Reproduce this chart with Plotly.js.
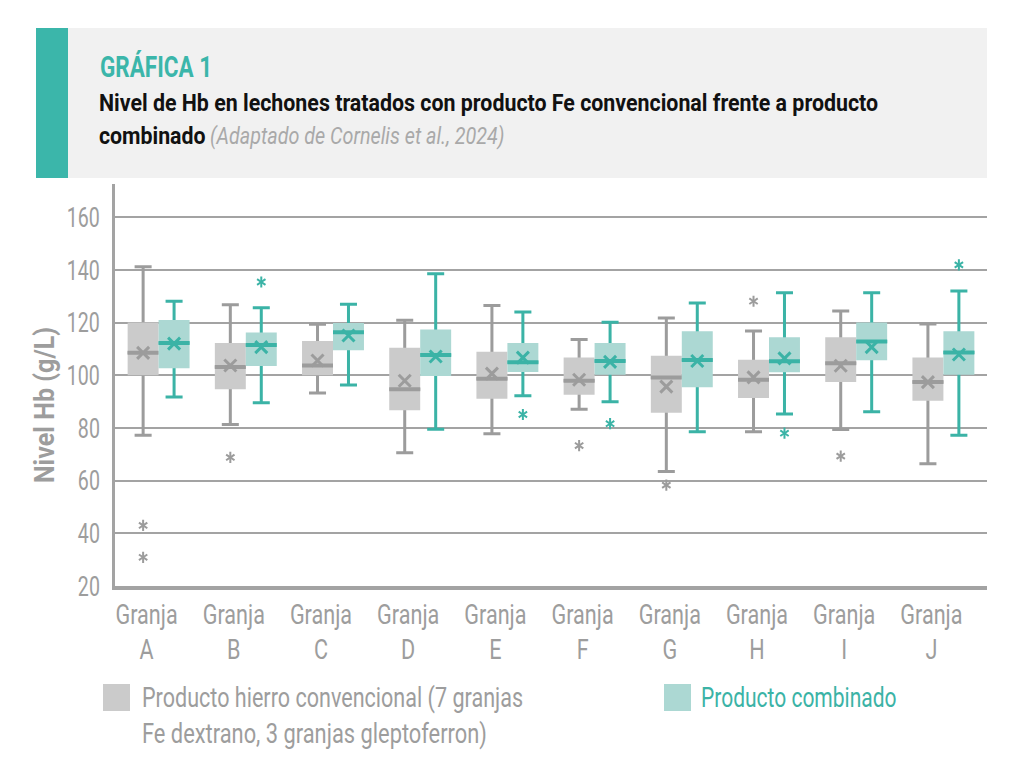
<!DOCTYPE html>
<html>
<head>
<meta charset="utf-8">
<script src="https://cdn.plot.ly/plotly-3.0.1.min.js"></script>
<style>
  html, body { margin: 0; padding: 0; background: #ffffff; }
  #chart { width: 1010px; height: 760px; }
</style>
</head>
<body>
<div id="chart"></div>
<script>
// Granjas (farms) on the x axis
const farms = ['A', 'B', 'C', 'D', 'E', 'F', 'G', 'H', 'I', 'J'];
const categories = farms.map(f => 'Granja ' + f);
const tickLabels = farms.map(f => 'Granja<br>' + f);

// Conventional iron product: box statistics per farm (Hb, g/L)
const convLower  = [77.2, 81.3, 93.3, 70.6, 77.8, 87.1, 63.5, 78.6, 79.4, 66.4];
const convQ1     = [100.0, 94.7, 100.0, 86.7, 91.1, 92.6, 85.8, 91.4, 97.4, 90.3];
const convMedian = [108.5, 103.1, 103.7, 94.7, 98.7, 97.9, 99.1, 98.3, 104.6, 97.4];
const convQ3     = [120.0, 112.2, 113.0, 110.4, 108.9, 106.7, 107.4, 105.9, 114.4, 106.7];
const convUpper  = [141.2, 126.8, 119.4, 120.9, 126.5, 113.6, 121.7, 116.8, 124.4, 119.5];
const convMean   = [108.5, 103.7, 105.6, 97.9, 100.6, 98.3, 95.7, 99.2, 103.6, 97.4];
const convOutX   = ['Granja A', 'Granja A', 'Granja B', 'Granja F', 'Granja G', 'Granja H', 'Granja I'];
const convOutY   = [43.0, 30.9, 68.8, 73.3, 58.3, 128.1, 69.3];

// Combined product: box statistics per farm (Hb, g/L)
const combLower  = [91.7, 89.6, 96.3, 79.5, 92.2, 89.9, 78.6, 85.3, 86.1, 77.2];
const combQ1     = [102.7, 103.5, 109.5, 99.7, 101.2, 100.2, 95.4, 101.1, 105.7, 100.2];
const combMedian = [112.2, 111.5, 116.3, 107.7, 104.9, 105.4, 105.8, 105.3, 112.8, 108.6];
const combQ3     = [121.0, 116.2, 119.8, 117.4, 112.2, 112.2, 116.7, 114.4, 120.0, 116.7];
const combUpper  = [128.1, 125.6, 127.0, 138.5, 124.0, 120.1, 127.4, 131.3, 131.3, 132.0];
const combMean   = [112.0, 110.7, 115.1, 107.1, 106.7, 105.1, 105.4, 106.4, 110.7, 107.9];
const combOutX   = ['Granja B', 'Granja E', 'Granja F', 'Granja H', 'Granja J'];
const combOutY   = [135.4, 85.1, 81.6, 78.0, 141.9];

const yTicks = [20, 40, 60, 80, 100, 120, 140, 160];

// Palette
const GREY_LINE = '#9c9c9c';
const GREY_FILL = '#cbcbcb';
const TEAL_LINE = '#3bb3a6';
const TEAL_FILL = '#acd8d3';
const TEXT_GREY = '#9d9d9d';
const FONT = "Roboto, 'Liberation Sans', sans-serif";

// Page geometry (pixels) used to place the header and the legend
const W = 1010, H = 760;
const M = { l: 115, r: 23, t: 184, b: 174 };
const PW = W - M.l - M.r, PH = H - M.t - M.b;
const px = x => (x - M.l) / PW;
const py = y => (H - M.b - y) / PH;

// Each product is drawn as three stacked box layers:
// whiskers underneath, the filled inter-quartile box, then the median bar.
function boxLayers(group, lower, q1, med, q3, upper, lineColor, fillColor) {
  const common = {
    type: 'box', x: categories, offsetgroup: group, alignmentgroup: 'hb',
    showlegend: false, hoverinfo: 'skip', whiskerwidth: 0.55, boxpoints: false
  };
  return [
    Object.assign({}, common, {
      q1: med, median: med, q3: med, lowerfence: lower, upperfence: upper,
      line: { color: lineColor, width: 3 }, fillcolor: lineColor
    }),
    Object.assign({}, common, {
      q1: q1, median: med, q3: q3, lowerfence: q1, upperfence: q3,
      line: { color: fillColor, width: 0 }, fillcolor: fillColor, whiskerwidth: 0
    }),
    Object.assign({}, common, {
      q1: med, median: med, q3: med, lowerfence: med, upperfence: med,
      line: { color: lineColor, width: 4 }, fillcolor: lineColor, whiskerwidth: 0
    })
  ];
}

function meanTrace(group, mean, color) {
  return {
    type: 'scatter', mode: 'markers', x: categories, y: mean, offsetgroup: group,
    alignmentgroup: 'hb', showlegend: false, hoverinfo: 'skip',
    marker: { symbol: 'x-thin-open', size: 12, color: color, line: { color: color, width: 3 } }
  };
}

// Six-armed asterisk for outliers: an upright and an inverted "Y" on the same points.
function outlierTraces(group, xs, ys, color) {
  return ['y-up-open', 'y-down-open'].map(symbol => ({
    type: 'scatter', mode: 'markers', x: xs, y: ys, offsetgroup: group,
    alignmentgroup: 'hb', showlegend: false, hoverinfo: 'skip',
    marker: { symbol: symbol, size: 7, color: color, line: { color: color, width: 2 } }
  }));
}

const data = [].concat(
  boxLayers('conv', convLower, convQ1, convMedian, convQ3, convUpper, GREY_LINE, GREY_FILL),
  boxLayers('comb', combLower, combQ1, combMedian, combQ3, combUpper, TEAL_LINE, TEAL_FILL),
  [meanTrace('conv', convMean, GREY_LINE), meanTrace('comb', combMean, TEAL_LINE)],
  outlierTraces('conv', convOutX, convOutY, GREY_LINE),
  outlierTraces('comb', combOutX, combOutY, TEAL_LINE)
);

// Free text blocks: [anchor x, middle y, text, size, colour, horizontal squeeze, anchor side]
const notes = [
  [98, 67, '<b>GRÁFICA 1</b>', 30, '#3bb6aa', 0.75, 'left'],
  [97, 103, '<b>Nivel de Hb en lechones tratados con producto Fe convencional frente a producto</b>', 24.5, '#111111', 0.872, 'left'],
  [208, 135, '<b>combinado</b>', 24.5, '#111111', 0.87, 'right'],
  [208, 135, '<i>(Adaptado de Cornelis et al., 2024)</i>', 24.5, '#a9a9a9', 0.806, 'left'],
  [140, 697, 'Producto hierro convencional (7 granjas', 28, TEXT_GREY, 0.77, 'left'],
  [140, 733, 'Fe dextrano, 3 granjas gleptoferron)', 28, TEXT_GREY, 0.78, 'left'],
  [699, 697, 'Producto combinado', 28, TEAL_LINE, 0.75, 'left']
];

const annotations = notes.map(([x, y, text, size, color, , side]) => ({
  xref: 'paper', yref: 'paper', x: px(x), y: py(y), xanchor: side, yanchor: 'middle',
  align: side, showarrow: false, text: text,
  font: { family: FONT, size: size, color: color }
}));
// y axis title
annotations.push({
  xref: 'paper', yref: 'paper', x: px(45), y: py(405), xanchor: 'center', yanchor: 'middle',
  align: 'center', showarrow: false, textangle: -90, text: '<b>Nivel Hb (g/L)</b>',
  font: { family: FONT, size: 27, color: TEXT_GREY }
});
const squeeze = notes.map(n => n[5]).concat([0.93]);

const layout = {
  width: W, height: H,
  margin: M,
  paper_bgcolor: '#ffffff', plot_bgcolor: '#ffffff',
  font: { family: FONT, color: TEXT_GREY, size: 24 },
  showlegend: false,
  boxmode: 'group', boxgap: 0.29, boxgroupgap: 0,
  scattermode: 'group', scattergap: 0.29,
  xaxis: {
    type: 'category', categoryorder: 'array', categoryarray: categories,
    tickvals: categories, ticktext: tickLabels,
    showgrid: false, zeroline: false, ticks: '',
    showline: true, linecolor: '#a3a3a3', linewidth: 3.5,
    tickfont: { family: FONT, size: 27, color: TEXT_GREY },
    ticklabelshift: -12, ticklabelstandoff: 2
  },
  yaxis: {
    range: [20, 172.6], tickvals: yTicks, ticktext: yTicks.map(String),
    showgrid: true, gridcolor: '#a3a3a3', gridwidth: 2,
    zeroline: false, ticks: '',
    showline: true, linecolor: '#a3a3a3', linewidth: 3.5,
    tickfont: { family: FONT, size: 28, color: TEXT_GREY },
    ticklabelstandoff: 6
  },
  shapes: [
    // header panel and accent stripe
    { type: 'rect', xref: 'paper', yref: 'paper', x0: px(36), x1: px(987), y0: py(178), y1: py(28),
      fillcolor: '#f1f1f1', line: { width: 0 }, layer: 'below' },
    { type: 'rect', xref: 'paper', yref: 'paper', x0: px(36), x1: px(68), y0: py(178), y1: py(28),
      fillcolor: '#3bb6aa', line: { width: 0 }, layer: 'below' },
    // legend swatches
    { type: 'rect', xref: 'paper', yref: 'paper', x0: px(103), x1: px(130), y0: py(711), y1: py(684),
      fillcolor: GREY_FILL, line: { width: 0 } },
    { type: 'rect', xref: 'paper', yref: 'paper', x0: px(664), x1: px(691), y0: py(711), y1: py(684),
      fillcolor: TEAL_FILL, line: { width: 0 } }
  ],
  annotations: annotations
};

// The typeface of the graphic is a condensed one; squeeze the glyphs horizontally.
function squeezeText(el, factor) {
  const lines = el.querySelectorAll('tspan.line');
  const targets = lines.length ? Array.from(lines) : [el];
  targets.forEach(t => {
    const w = t.getComputedTextLength();
    if (w > 0) {
      t.setAttribute('textLength', (w * factor).toFixed(2));
      t.setAttribute('lengthAdjust', 'spacingAndGlyphs');
    }
  });
}

Plotly.newPlot('chart', data, layout, { displayModeBar: false, staticPlot: true }).then(() => {
  document.querySelectorAll('#chart .xtick text').forEach(t => squeezeText(t, 0.80));
  document.querySelectorAll('#chart .ytick text').forEach(t => squeezeText(t, 0.70));
  document.querySelectorAll('#chart .annotation').forEach(g => {
    const i = +g.getAttribute('data-index');
    const t = g.querySelector('.annotation-text');
    if (t && squeeze[i]) squeezeText(t, squeeze[i]);
  });
});
</script>
</body>
</html>
